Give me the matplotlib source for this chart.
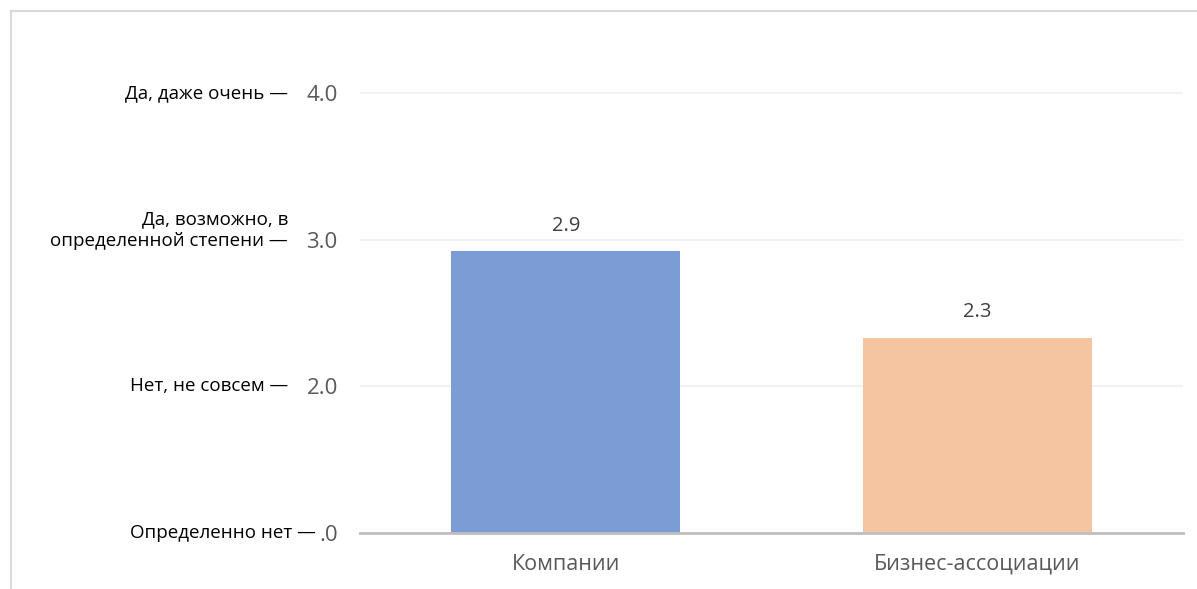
import matplotlib.pyplot as plt
from matplotlib.lines import Line2D

# Data
categories = ["Компании", "Бизнес-ассоциации"]
values = [2.92, 2.33]
value_labels = ["2.9", "2.3"]
bar_colors = ["#7C9CD5", "#F5C4A1"]

y_ticks = [1.0, 2.0, 3.0, 4.0]
y_tick_labels = [".0", "2.0", "3.0", "4.0"]
y_descriptions = ["Определенно нет —", "Нет, не совсем —",
                  "Да, возможно, в\nопределенной степени —", "Да, даже очень —"]

plt.rcParams['font.family'] = ['Open Sans', 'DejaVu Sans']

fig = plt.figure(figsize=(11.97, 5.89), dpi=100)
W, H = 1197, 589
ax = fig.add_axes([360 / W, 56 / H, 823 / W, (533 - 78.3) / H])

x = list(range(len(categories)))
ax.bar(x, [v - 1.0 for v in values], bottom=1.0, width=0.556,
       color=bar_colors, zorder=3)

for xi, v, lab in zip(x, values, value_labels):
    ax.annotate(lab, (xi, v), xytext=(0, 18.5), textcoords="offset points",
                ha="center", va="center", fontsize=14.5, color="#404040")

ax.set_xlim(-0.5, 1.5)
ax.set_ylim(1.0, 4.1)
ax.set_xticks(x)
ax.set_xticklabels(categories, fontsize=15.5, color="#595959")
ax.set_yticks(y_ticks)
ax.set_yticklabels(y_tick_labels, fontsize=16, color="#595959")
ax.tick_params(axis="y", length=0, pad=16)
ax.tick_params(axis="x", length=0, pad=15)

ax.yaxis.grid(True, color="#EFEFEF", linewidth=1.2, zorder=0)
ax.set_axisbelow(True)
for side in ("top", "right", "left"):
    ax.spines[side].set_visible(False)
ax.spines["bottom"].set_color("#BFBFBF")
ax.spines["bottom"].set_linewidth(2)
ax.spines["bottom"].set_zorder(4)

# Descriptive labels next to the numeric ticks
ytrans = ax.get_yaxis_transform()
for yv, desc in zip(y_ticks, y_descriptions):
    xr = (316 - 360) / 823 if yv == 1.0 else (288 - 360) / 823
    if "\n" in desc:
        ax.text(xr, yv - 0.04, desc, transform=ytrans, ha="right", va="baseline",
                multialignment="right", fontsize=13.5, color="#000000",
                linespacing=1.2)
    else:
        ax.text(xr, yv, desc, transform=ytrans, ha="right", va="center",
                fontsize=13.5, color="#000000")

# Frame lines
fig.add_artist(Line2D([11 / W, 1], [1 - 11 / H, 1 - 11 / H], color="#D9D9D9", lw=1.5,
                      transform=fig.transFigure))
fig.add_artist(Line2D([11 / W, 11 / W], [0, 1 - 11 / H], color="#D9D9D9", lw=1.5,
                      transform=fig.transFigure))

fig.savefig("out.png", dpi=100)
